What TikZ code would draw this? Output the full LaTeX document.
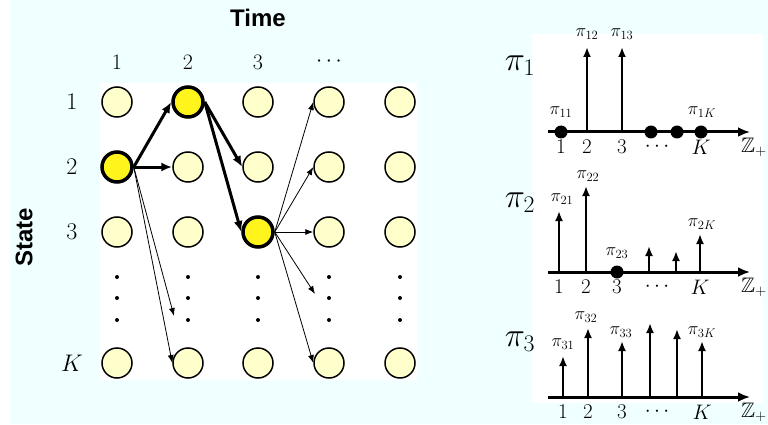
\RequirePackage{fix-cm}
\documentclass[tikz,border=0pt]{standalone}
\usepackage{amssymb}
\usepackage{fontspec}
\newfontfamily\labfont{Liberation Sans}
\usetikzlibrary{arrows.meta}
\definecolor{bgcyan}{HTML}{F0FFFF}
\definecolor{lightyel}{HTML}{FFFFCC}
\definecolor{hiyel}{HTML}{FFF41C}
\tikzset{
  st/.style={circle,draw=black,line width=1.5pt,fill=lightyel,minimum size=30pt,inner sep=0pt},
  hist/.style={st,fill=hiyel,line width=3.5pt},
  thickarr/.style={line width=3pt,-{Latex[length=11pt,width=9pt]}},
  thinarr/.style={line width=0.8pt,-{Latex[length=8pt,width=6pt]}},
  vdot/.style={fill=black,circle,inner sep=0pt,minimum size=4pt},
  collab/.style={font=\fontsize{22}{26}\selectfont},
  rowlab/.style={font=\fontsize{24}{28}\selectfont},
  ticklab/.style={font=\fontsize{21}{24}\selectfont},
  plab/.style={font=\fontsize{18}{21}\selectfont,inner sep=0pt},
  bigpi/.style={font=\fontsize{34}{38}\selectfont},
  axisline/.style={line width=3pt,-{Latex[length=12pt,width=10pt]}},
  stemarr/.style={line width=2.5pt,-{Latex[length=10pt,width=8pt]}},
  bigdot/.style={fill=black,circle,inner sep=0pt,minimum size=13pt},
  titlefont/.style={font=\labfont\bfseries\fontsize{24}{28}\selectfont}
}
\begin{document}
\begin{tikzpicture}[x=1pt,y=-1pt]
\useasboundingbox (0,0) rectangle (768,425);
% backgrounds
\fill[bgcyan] (10,0) rectangle (768,424);
\fill[white] (100,83) rectangle (417,380);
\fill[white] (532,34) rectangle (763,403);

% titles
\node[titlefont] (time) at (258,18) {Time};
\node[titlefont,rotate=90] (state) at (24,237) {State};

% column labels
\node[collab] (c1) at (117,62) {$1$};
\node[collab] (c2) at (188,62) {$2$};
\node[collab] (c3) at (258,62) {$3$};
\node[collab] (c4) at (329,62) {$\cdots$};
% row labels
\node[rowlab] (r1) at (72,102) {$1$};
\node[rowlab] (r2) at (72,167) {$2$};
\node[rowlab] (r3) at (72,232) {$3$};
\node[rowlab] (rK) at (72,363) {$K$};

% state nodes
\foreach \c/\x in {1/117,2/188,3/258,4/329,5/400}{
  \foreach \r/\y in {1/102,2/167,3/232,K/363}{
    \node[st] (n\c\r) at (\x,\y) {};
  }
  \foreach \y [count=\i] in {277,298,320}{
    \node[vdot] (d\c\i) at (\x,\y) {};
  }
}
% highlighted
\node[hist] (n12) at (117,167) {};
\node[hist] (n21) at (188,102) {};
\node[hist] (n33) at (258,232) {};

% free ends
\coordinate (e1) at (174,316);
\coordinate (e2) at (315,294);

% thick arrows
\draw[thickarr] (n12.east) -- (n21.west);
\draw[thickarr] (n12.east) -- (n22.west);
\draw[thickarr] (n21.east) -- (n32.west);
\draw[thickarr] (n21.east) -- (n33.west);
% thin arrows
\draw[thinarr] (n12.east) -- (n2K.west);
\draw[thinarr] (n12.east) -- (e1);
\draw[thinarr] (n33.east) -- (n41.west);
\draw[thinarr] (n33.east) -- (n42.west);
\draw[thinarr] (n33.east) -- (n43.west);
\draw[thinarr] (n33.east) -- (e2);
\draw[thinarr] (n33.east) -- (n4K.west);

% ---------- right panel ----------
% pi_1
\node[bigpi] (p1) at (520,66) {$\pi_1$};
\draw[axisline] (548,132) -- (750,132);
\node[bigdot] at (561,132) {};
\draw[stemarr] (587,132) -- (587,47);
\draw[stemarr] (622,132) -- (622,47);
\node[bigdot] at (651,132) {};
\node[bigdot] at (677,132) {};
\node[bigdot] at (701,132) {};
\node[plab] at (561,112) {$\pi_{11}$};
\node[plab] at (587,34) {$\pi_{12}$};
\node[plab] at (622,34) {$\pi_{13}$};
\node[plab] at (702,112) {$\pi_{1K}$};
\foreach \x/\t in {561/1,587/2,622/3,657/\cdots,701/K}{
  \node[ticklab] at (\x,147) {$\t$};
}
\node[ticklab,anchor=east,inner sep=0pt] at (767,147) {$\mathbb{Z}_+$};

% pi_2
\node[bigpi] (p2) at (520,203) {$\pi_2$};
\draw[axisline] (548,272) -- (750,272);
\draw[stemarr] (559,272) -- (559,211);
\draw[stemarr] (586,272) -- (586,186);
\node[bigdot] at (617,272) {};
\draw[stemarr] (649,272) -- (649,246);
\draw[stemarr] (676,272) -- (676,251);
\draw[stemarr] (700,272) -- (700,234);
\node[plab] at (562,199) {$\pi_{21}$};
\node[plab] at (588,176) {$\pi_{22}$};
\node[plab] at (617,253) {$\pi_{23}$};
\node[plab] at (702,224) {$\pi_{2K}$};
\foreach \x/\t in {559/1,586/2,617/3,657/\cdots,700/K}{
  \node[ticklab] at (\x,287) {$\t$};
}
\node[ticklab,anchor=east,inner sep=0pt] at (767,287) {$\mathbb{Z}_+$};

% pi_3
\node[bigpi] (p3) at (520,342) {$\pi_3$};
\draw[axisline] (548,397) -- (750,397);
\draw[stemarr] (563,397) -- (563,356);
\draw[stemarr] (588,397) -- (588,328);
\draw[stemarr] (622,397) -- (622,341);
\draw[stemarr] (650,397) -- (650,323);
\draw[stemarr] (677,397) -- (677,329);
\draw[stemarr] (702,397) -- (702,341);
\node[plab] at (563,344) {$\pi_{31}$};
\node[plab] at (586,317) {$\pi_{32}$};
\node[plab] at (621,332) {$\pi_{33}$};
\node[plab] at (702,332) {$\pi_{3K}$};
\foreach \x/\t in {563/1,588/2,622/3,657/\cdots,702/K}{
  \node[ticklab] at (\x,412) {$\t$};
}
\node[ticklab,anchor=east,inner sep=0pt] at (767,412) {$\mathbb{Z}_+$};
\end{tikzpicture}
\end{document}
